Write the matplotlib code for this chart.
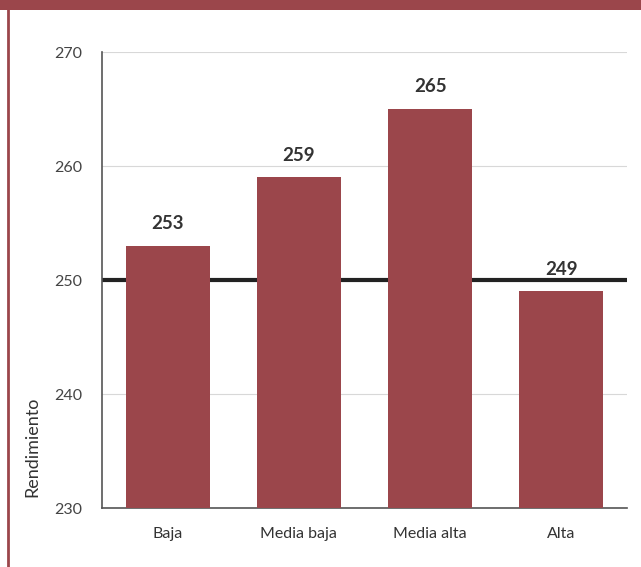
import matplotlib
matplotlib.use('Agg')
import matplotlib.pyplot as plt
from matplotlib.patches import Rectangle
from matplotlib.lines import Line2D

categorias = ['Baja', 'Media baja', 'Media alta', 'Alta']
rendimiento = [253, 259, 265, 249]
media = 250

rojo = '#9b464b'
plt.rcParams['font.family'] = ['Lato', 'DejaVu Sans']

fig = plt.figure(figsize=(6.41, 5.67), dpi=100)
W, H = 641, 567

# franja superior y borde izquierdo
fig.patches.append(Rectangle((0, 1 - 10 / H), 1, 10 / H, transform=fig.transFigure,
                             facecolor=rojo, edgecolor='none'))
fig.lines.append(Line2D([8 / W, 8 / W], [0, 1 - 10 / H], transform=fig.transFigure,
                        color=rojo, lw=2))

ax = fig.add_axes([102 / W, 1 - 508 / H, (627 - 102) / W, (508 - 52) / H])
x = range(len(categorias))
ax.bar(x, rendimiento, width=0.64, color=rojo, zorder=3)
ax.axhline(media, color='#222222', lw=3, zorder=2)

for xi, v in zip(x, rendimiento):
    ax.text(xi, v + 1.2, str(v), ha='center', va='bottom', fontsize=13.5,
            fontweight='bold', color='#333333')

ax.set_ylim(230, 270)
ax.set_xlim(-0.5, 3.5)
ax.set_yticks([230, 240, 250, 260, 270])
ax.set_xticks(list(x))
ax.set_xticklabels(categorias, fontsize=11.5, color='#333333')
ax.tick_params(axis='y', labelsize=11.5, labelcolor='#444444', length=0, pad=14)
ax.tick_params(axis='x', length=0, pad=14)
ax.yaxis.grid(True, color='#d8d8d8', lw=0.8, zorder=0)
for s in ['top', 'right']:
    ax.spines[s].set_visible(False)
ax.spines['left'].set_color('#555555')
ax.spines['bottom'].set_color('#555555')
ax.spines['left'].set_linewidth(1.2)
ax.spines['bottom'].set_linewidth(1.2)

fig.text(32 / W, 1 - 447 / H, 'Rendimiento', rotation=90, ha='center', va='center',
         fontsize=13, color='#333333')

fig.savefig('out.png', dpi=100)
